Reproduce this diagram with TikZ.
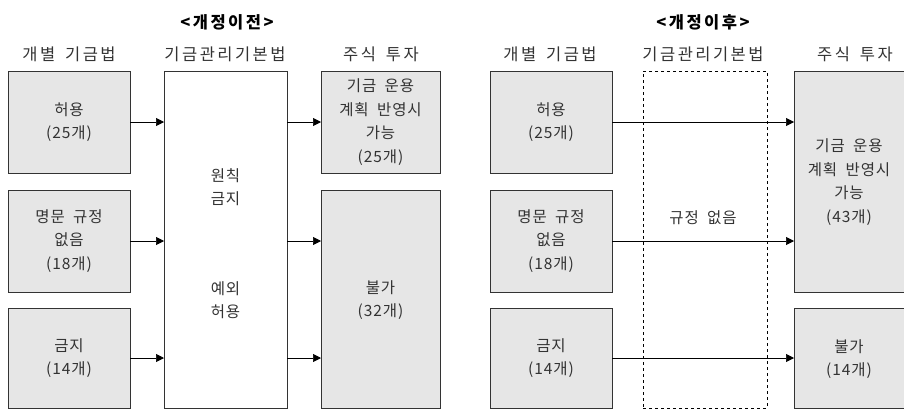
\documentclass[tikz,border=0pt]{standalone}
\usepackage{fontspec}
\setmainfont{Noto Sans CJK KR}[WordSpace=1.8]
\newfontfamily\bodyfont{Noto Sans CJK KR}[LetterSpace=6,WordSpace=1.9]
\newfontfamily\headfont{Noto Sans CJK KR}[LetterSpace=15,WordSpace=1.6]
\usetikzlibrary{arrows.meta}
\definecolor{boxfill}{HTML}{E6E6E6}
\definecolor{edge}{HTML}{333333}
\definecolor{txt}{HTML}{333333}
\begin{document}
\begin{tikzpicture}[x=1pt,y=-1pt,
  every node/.style={text=txt,font=\bodyfont\fontsize{15.5}{23.5}\selectfont,align=center,inner sep=0pt,outer sep=0pt},
  grey/.style={draw=edge,fill=boxfill,line width=0.8pt},
  plain/.style={draw=edge,fill=white,line width=0.8pt},
  dashbox/.style={draw=black,dashed,line width=0.6pt},
  head/.style={font=\headfont\fontsize{16.5}{20}\selectfont},
  ttl/.style={text=black,font=\headfont\fontsize{16.5}{20}\selectfont\bfseries},
  conn/.style={draw=black,line width=0.7pt,-{Triangle[length=8pt,width=8pt]}}]
\useasboundingbox (0,0) rectangle (904,410);
% ---------- left panel ----------
\node[ttl] (t1) at (227,22) {<개정이전>};
\node[head] (h1) at (69,54) {개별 기금법};
\node[head] (h2) at (225,54) {기금관리기본법};
\node[head] (h3) at (381,54) {주식 투자};
\node[grey,minimum width=122pt,minimum height=102pt] (L1) at (69,122) {허용\\(25개)};
\node[grey,minimum width=122pt,minimum height=102pt] (L2) at (69,241) {명문 규정\\없음\\(18개)};
\node[grey,minimum width=122pt,minimum height=100pt] (L3) at (69,358) {금지\\(14개)};
\node[plain,minimum width=123pt,minimum height=337pt] (M) at (225.5,239.5) {};
\node (m1) at (225.5,187) {원칙\\금지};
\node (m2) at (225.5,300) {예외\\허용};
\node[grey,minimum width=119pt,minimum height=102pt] (R1) at (380.5,122) {기금 운용\\계획 반영시\\가능\\(25개)};
\node[grey,minimum width=119pt,minimum height=218pt] (R2) at (380.5,299) {};
\node (r2t) at (380.5,300) {불가\\(32개)};
\draw[conn] (L1.east) -- (L1.east -| M.west);
\draw[conn] (L2.east) -- (L2.east -| M.west);
\draw[conn] (L3.east) -- (L3.east -| M.west);
\draw[conn] (M.east |- L1.east) -- (R1.west);
\draw[conn] (M.east |- L2.east) -- (R2.west |- L2.east);
\draw[conn] (M.east |- L3.east) -- (R2.west |- L3.east);
% ---------- right panel ----------
\node[ttl] (t2) at (703,22) {<개정이후>};
\node[head] (h4) at (550,54) {개별 기금법};
\node[head] (h5) at (703,54) {기금관리기본법};
\node[head] (h6) at (855,54) {주식 투자};
\node[grey,minimum width=122pt,minimum height=102pt] (A1) at (551,122) {허용\\(25개)};
\node[grey,minimum width=122pt,minimum height=102pt] (A2) at (551,241) {명문 규정\\없음\\(18개)};
\node[grey,minimum width=122pt,minimum height=100pt] (A3) at (551,358) {금지\\(14개)};
\node[dashbox,minimum width=124pt,minimum height=337pt] (D) at (705,239.5) {};
\node (dt) at (703,218) {규정 없음};
\node[grey,minimum width=114pt,minimum height=221pt] (B1) at (851,181.5) {};
\node (b1t) at (849,182) {기금 운용\\계획 반영시\\가능\\(43개)};
\node[grey,minimum width=114pt,minimum height=100pt] (B2) at (851,358) {};
\node (b2t) at (849,359) {불가\\(14개)};
\draw[conn] (A1.east) -- (A1.east -| B1.west);
\draw[conn] (A2.east) -- (A2.east -| B1.west);
\draw[conn] (A3.east) -- (A3.east -| B2.west);
\end{tikzpicture}
\end{document}
